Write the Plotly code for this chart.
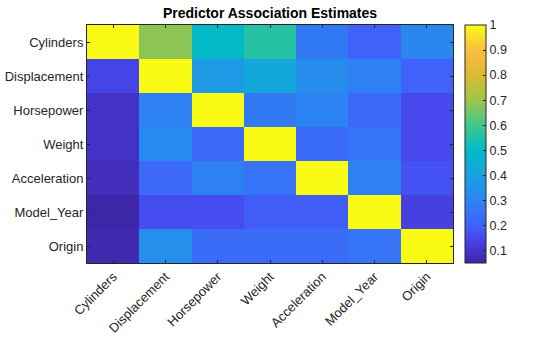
import plotly.graph_objects as go

names = ["Cylinders", "Displacement", "Horsepower", "Weight", "Acceleration", "Model_Year", "Origin"]

row_cylinders    = [1.00, 0.68, 0.50, 0.56, 0.27, 0.20, 0.31]
row_displacement = [0.14, 1.00, 0.37, 0.42, 0.33, 0.29, 0.20]
row_horsepower   = [0.09, 0.29, 1.00, 0.27, 0.30, 0.22, 0.15]
row_weight       = [0.09, 0.32, 0.22, 1.00, 0.23, 0.26, 0.15]
row_acceleration = [0.08, 0.22, 0.29, 0.25, 1.00, 0.29, 0.17]
row_model_year   = [0.05, 0.16, 0.16, 0.19, 0.19, 1.00, 0.13]
row_origin       = [0.06, 0.34, 0.23, 0.23, 0.23, 0.25, 1.00]

z = [row_cylinders, row_displacement, row_horsepower, row_weight,
     row_acceleration, row_model_year, row_origin]

zmin, zmax = 0.05, 1.0
stops = [
    (0.05, (62, 38, 168)),
    (0.10, (70, 52, 205)),
    (0.15, (70, 72, 238)),
    (0.20, (64, 98, 250)),
    (0.30, (44, 132, 242)),
    (0.40, (24, 162, 224)),
    (0.50, (2, 186, 198)),
    (0.60, (62, 200, 140)),
    (0.70, (160, 196, 72)),
    (0.80, (222, 185, 50)),
    (0.90, (251, 190, 62)),
    (1.00, (249, 251, 20)),
]
parula = [[(v - zmin) / (zmax - zmin), "rgb(%d,%d,%d)" % c] for v, c in stops]

fig = go.Figure(go.Heatmap(
    z=z, x=names, y=names,
    colorscale=parula, zmin=zmin, zmax=zmax,
    xgap=0, ygap=0,
    colorbar=dict(
        thickness=21, len=1.0, lenmode="fraction", y=0.5, yanchor="middle",
        x=1.033, xanchor="left", xpad=0, ypad=0,
        outlinecolor="#262626", outlinewidth=1,
        ticks="inside", ticklen=3, tickcolor="#262626",
        tickvals=[0.1, 0.2, 0.3, 0.4, 0.5, 0.6, 0.7, 0.8, 0.9, 1.0],
        ticktext=["0.1", "0.2", "0.3", "0.4", "0.5", "0.6", "0.7", "0.8", "0.9", "1"],
        tickfont=dict(size=12.5, color="#262626"),
    ),
))

fig.update_layout(
    width=560, height=337,
    margin=dict(l=87, r=107, t=25, b=74, autoexpand=False),
    paper_bgcolor="white", plot_bgcolor="white",
    font=dict(family="Liberation Sans, Arial, sans-serif", color="#262626"),
    title=dict(text="<b>Predictor Association Estimates</b>", x=(87 + 453) / 2 / 560, xanchor="center",
               y=1 - 13 / 337, yanchor="middle", font=dict(size=14, color="black")),
)
fig.update_xaxes(tickangle=-45, ticks="inside", ticklen=3, tickcolor="#262626",
                 showline=True, linecolor="#262626", linewidth=1, mirror="ticks",
                 tickfont=dict(size=13, color="#262626"), showgrid=False, automargin=False)
fig.update_yaxes(autorange="reversed", ticks="inside", ticklen=3, tickcolor="#262626",
                 showline=True, linecolor="#262626", linewidth=1, mirror="ticks",
                 tickfont=dict(size=13, color="#262626"), showgrid=False, automargin=False)

fig.write_html("out.html")
